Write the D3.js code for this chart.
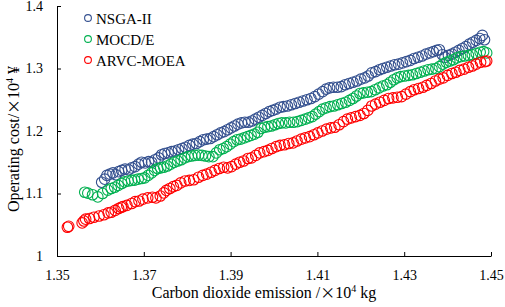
<!DOCTYPE html>
<html><head><meta charset="utf-8">
<script src="https://cdn.jsdelivr.net/npm/d3@7"></script>
<style>body{margin:0;background:#fff}svg{display:block}</style>
</head><body>
<script>
const seriesNames = ["NSGA-II", "MOCD/E", "ARVC-MOEA"];
const seriesColors = ["#34508f", "#00b050", "#ff0000"];
const xTickValues = [1.35, 1.37, 1.39, 1.41, 1.43, 1.45];
const xTickLabels = ["1.35", "1.37", "1.39", "1.41", "1.43", "1.45"];
const yTickValues = [1, 1.1, 1.2, 1.3, 1.4];
const yTickLabels = ["1", "1.1", "1.2", "1.3", "1.4"];

const nsgaX = [1.3603,1.3610,1.3615,1.3622,1.3629,1.3636,1.3642,1.3649,1.3657,1.3665,1.3672,1.3680,1.3688,1.3695,1.3703,1.3711,1.3718,1.3726,1.3734,1.3741,1.3748,1.3756,1.3764,1.3772,1.3780,1.3788,1.3796,1.3805,1.3813,1.3821,1.3829,1.3837,1.3845,1.3853,1.3861,1.3869,1.3877,1.3885,1.3893,1.3901,1.3909,1.3917,1.3925,1.3933,1.3941,1.3949,1.3957,1.3965,1.3973,1.3981,1.3989,1.3997,1.4005,1.4014,1.4022,1.4031,1.4040,1.4049,1.4058,1.4067,1.4076,1.4085,1.4094,1.4103,1.4112,1.4120,1.4128,1.4137,1.4146,1.4155,1.4164,1.4173,1.4182,1.4191,1.4200,1.4209,1.4217,1.4225,1.4234,1.4243,1.4251,1.4260,1.4269,1.4278,1.4287,1.4296,1.4305,1.4314,1.4323,1.4332,1.4341,1.4350,1.4359,1.4367,1.4375,1.4381,1.4388,1.4394,1.4402,1.4410,1.4418,1.4426,1.4434,1.4442,1.4450,1.4458,1.4466,1.4474,1.4480,1.4485];
const nsgaY = [1.1180,1.1230,1.1290,1.1310,1.1330,1.1300,1.1350,1.1370,1.1390,1.1380,1.1410,1.1430,1.1470,1.1500,1.1490,1.1510,1.1500,1.1540,1.1570,1.1620,1.1640,1.1650,1.1670,1.1680,1.1700,1.1720,1.1740,1.1770,1.1790,1.1800,1.1830,1.1860,1.1870,1.1880,1.1910,1.1940,1.1970,1.1990,1.2020,1.2050,1.2080,1.2110,1.2130,1.2140,1.2140,1.2160,1.2190,1.2220,1.2250,1.2280,1.2310,1.2330,1.2350,1.2380,1.2390,1.2400,1.2420,1.2440,1.2460,1.2480,1.2500,1.2520,1.2550,1.2590,1.2630,1.2670,1.2690,1.2700,1.2700,1.2710,1.2740,1.2760,1.2780,1.2800,1.2830,1.2850,1.2880,1.2930,1.2950,1.2980,1.3000,1.3020,1.3040,1.3060,1.3070,1.3090,1.3110,1.3130,1.3160,1.3180,1.3200,1.3230,1.3250,1.3270,1.3290,1.3300,1.3220,1.3180,1.3210,1.3230,1.3260,1.3290,1.3320,1.3350,1.3390,1.3420,1.3450,1.3480,1.3530,1.3460];

const mocdX = [1.3564,1.3571,1.3582,1.3594,1.3605,1.3617,1.3625,1.3633,1.3641,1.3649,1.3656,1.3664,1.3672,1.3679,1.3687,1.3695,1.3702,1.3710,1.3718,1.3725,1.3732,1.3739,1.3746,1.3754,1.3762,1.3770,1.3778,1.3786,1.3794,1.3802,1.3810,1.3818,1.3826,1.3834,1.3842,1.3850,1.3859,1.3867,1.3875,1.3883,1.3891,1.3899,1.3907,1.3915,1.3923,1.3931,1.3939,1.3947,1.3955,1.3963,1.3970,1.3978,1.3986,1.3994,1.4002,1.4010,1.4018,1.4027,1.4036,1.4045,1.4054,1.4063,1.4072,1.4080,1.4088,1.4096,1.4104,1.4112,1.4120,1.4129,1.4138,1.4147,1.4156,1.4165,1.4174,1.4182,1.4190,1.4198,1.4206,1.4215,1.4224,1.4233,1.4242,1.4251,1.4260,1.4268,1.4276,1.4284,1.4292,1.4301,1.4310,1.4319,1.4328,1.4337,1.4346,1.4355,1.4364,1.4373,1.4381,1.4389,1.4397,1.4405,1.4413,1.4421,1.4430,1.4439,1.4448,1.4457,1.4466,1.4475,1.4483,1.4490];
const mocdY = [1.1020,1.1005,1.0980,1.0945,1.1000,1.1055,1.1080,1.1100,1.1130,1.1160,1.1185,1.1200,1.1210,1.1215,1.1230,1.1240,1.1250,1.1290,1.1330,1.1370,1.1400,1.1410,1.1420,1.1440,1.1470,1.1500,1.1520,1.1540,1.1570,1.1590,1.1600,1.1610,1.1615,1.1610,1.1600,1.1590,1.1590,1.1650,1.1700,1.1720,1.1750,1.1790,1.1830,1.1860,1.1870,1.1890,1.1910,1.1930,1.1950,1.1980,1.2040,1.2060,1.2070,1.2080,1.2100,1.2120,1.2130,1.2130,1.2140,1.2140,1.2150,1.2170,1.2190,1.2210,1.2230,1.2270,1.2310,1.2350,1.2370,1.2390,1.2400,1.2420,1.2440,1.2460,1.2490,1.2520,1.2560,1.2600,1.2610,1.2620,1.2630,1.2660,1.2690,1.2720,1.2740,1.2780,1.2820,1.2850,1.2870,1.2880,1.2890,1.2900,1.2920,1.2940,1.2960,1.2980,1.2990,1.3000,1.3030,1.3070,1.3100,1.3120,1.3140,1.3170,1.3190,1.3200,1.3210,1.3220,1.3240,1.3260,1.3270,1.3250];

const arvcX = [1.3524,1.3527,1.3558,1.3562,1.3566,1.3575,1.3585,1.3597,1.3608,1.3618,1.3625,1.3634,1.3642,1.3648,1.3652,1.3661,1.3672,1.3680,1.3689,1.3698,1.3709,1.3720,1.3728,1.3738,1.3746,1.3752,1.3760,1.3768,1.3776,1.3785,1.3795,1.3805,1.3815,1.3826,1.3836,1.3845,1.3855,1.3864,1.3874,1.3884,1.3893,1.3902,1.3912,1.3921,1.3930,1.3940,1.3948,1.3958,1.3967,1.3977,1.3986,1.3995,1.4005,1.4014,1.4024,1.4034,1.4044,1.4053,1.4063,1.4072,1.4082,1.4092,1.4101,1.4111,1.4121,1.4131,1.4140,1.4150,1.4160,1.4169,1.4178,1.4188,1.4198,1.4207,1.4216,1.4225,1.4234,1.4244,1.4254,1.4264,1.4274,1.4284,1.4294,1.4304,1.4314,1.4323,1.4333,1.4343,1.4352,1.4362,1.4372,1.4381,1.4390,1.4400,1.4410,1.4419,1.4428,1.4438,1.4448,1.4457,1.4466,1.4476,1.4486,1.4490];
const arvcY = [1.0460,1.0475,1.0530,1.0560,1.0590,1.0600,1.0620,1.0640,1.0660,1.0690,1.0700,1.0730,1.0760,1.0780,1.0790,1.0810,1.0840,1.0870,1.0880,1.0910,1.0930,1.0940,1.0930,1.0960,1.1010,1.1050,1.1080,1.1110,1.1130,1.1170,1.1200,1.1210,1.1220,1.1260,1.1290,1.1310,1.1340,1.1370,1.1400,1.1420,1.1410,1.1430,1.1470,1.1500,1.1520,1.1560,1.1570,1.1610,1.1650,1.1670,1.1690,1.1720,1.1750,1.1770,1.1780,1.1800,1.1810,1.1840,1.1870,1.1890,1.1910,1.1940,1.1970,1.2000,1.2030,1.2050,1.2060,1.2100,1.2150,1.2190,1.2210,1.2230,1.2250,1.2280,1.2330,1.2400,1.2430,1.2460,1.2490,1.2520,1.2530,1.2540,1.2550,1.2590,1.2630,1.2660,1.2680,1.2700,1.2730,1.2760,1.2800,1.2830,1.2850,1.2890,1.2920,1.2940,1.2970,1.2990,1.3020,1.3040,1.3070,1.3100,1.3110,1.3120];

const W = 505, H = 307;
const svg = d3.select("body").append("svg").attr("width", W).attr("height", H);
const font = "'Liberation Serif', 'Times New Roman', serif";

const x = d3.scaleLinear().domain([1.35, 1.45]).range([57, 491]);
const y = d3.scaleLinear().domain([1, 1.4]).range([256, 6]);

const xAxis = d3.axisBottom(x).tickValues(xTickValues)
  .tickFormat((d, i) => xTickLabels[i]).tickSizeInner(-4).tickSizeOuter(0).tickPadding(14);
const yAxis = d3.axisLeft(y).tickValues(yTickValues)
  .tickFormat((d, i) => yTickLabels[i]).tickSizeInner(-4).tickSizeOuter(0).tickPadding(14);

const gx = svg.append("g").attr("transform", "translate(0,256)").call(xAxis);
const gy = svg.append("g").attr("transform", "translate(57,0)").call(yAxis);
[gx, gy].forEach(g => {
  g.selectAll("text").attr("font-family", font).attr("font-size", 14).attr("fill", "#000");
  g.selectAll("line,path").attr("stroke", "#000").attr("stroke-width", 1);
});

const data = [
  {xs: nsgaX, ys: nsgaY},
  {xs: mocdX, ys: mocdY},
  {xs: arvcX, ys: arvcY}
];
data.forEach((s, k) => {
  svg.append("g").selectAll("circle").data(s.xs.map((v, i) => [v, s.ys[i]]))
    .join("circle")
    .attr("cx", d => x(d[0])).attr("cy", d => y(d[1])).attr("r", 5.3)
    .attr("fill", "none").attr("stroke", seriesColors[k]).attr("stroke-width", 1.1);
});

// legend
const leg = svg.append("g");
seriesNames.forEach((n, i) => {
  leg.append("circle").attr("cx", 88).attr("cy", 18 + i * 21).attr("r", 3.4)
    .attr("fill", "none").attr("stroke", seriesColors[i]).attr("stroke-width", 1.1);
  leg.append("text").attr("x", 96).attr("y", 24 + i * 21).text(n)
    .attr("font-family", font).attr("font-size", 15).attr("fill", "#000");
});

// axis titles
const xt = svg.append("text").attr("x", 264).attr("y", 298).attr("text-anchor", "middle")
  .attr("font-family", font).attr("font-size", 16).attr("fill", "#000");
xt.append("tspan").text("Carbon dioxide emission /");
xt.append("tspan").attr("font-family", "'Noto Sans CJK SC'").attr("font-size", 15).text("×");
xt.append("tspan").text("10");
xt.append("tspan").attr("font-size", 10).attr("dy", -6).text("4");
xt.append("tspan").attr("dy", 6).text(" kg");

const yt = svg.append("text").attr("transform", "translate(19,139) rotate(-90)").attr("text-anchor", "middle")
  .attr("font-family", font).attr("font-size", 16).attr("fill", "#000");
yt.append("tspan").text("Operating cost/");
yt.append("tspan").attr("font-family", "'Noto Sans CJK SC'").attr("font-size", 15).text("×");
yt.append("tspan").text("10");
yt.append("tspan").attr("font-size", 10).attr("dy", -6).text("4");
yt.append("tspan").attr("dy", 6).text(" ¥");
</script>
</body></html>
